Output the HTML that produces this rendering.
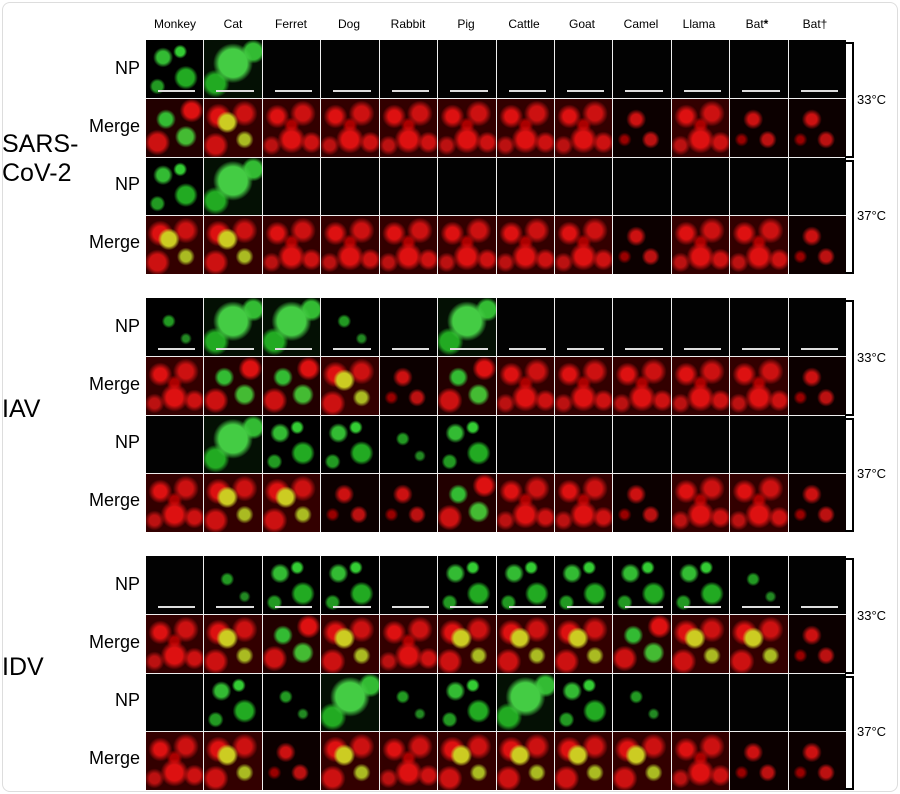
<!DOCTYPE html>
<html><head><meta charset="utf-8"><style>
body{margin:0;width:900px;height:794px;background:#fff;position:relative;overflow:hidden;font-family:"Liberation Sans",sans-serif;}
.frame{position:absolute;left:2px;top:2px;width:894px;height:788px;border:1px solid #ddd;border-radius:8px;}
.blk{position:absolute;left:146px;width:700px;height:234px;display:grid;grid-template-columns:repeat(12,1fr);grid-template-rows:repeat(4,1fr);gap:1px;background:#eee;}
.blk div{background:#000;position:relative;overflow:hidden}
.k{background:#020202!important}
.g{background:radial-gradient(circle at 30% 30%,#3b3 0 6px,transparent 10px),radial-gradient(circle at 70% 65%,#2a2 0 8px,transparent 12px),radial-gradient(circle at 60% 20%,#3c3 0 4px,transparent 7px),radial-gradient(circle at 20% 80%,#292 0 5px,transparent 8px),#000!important}
.G{background:radial-gradient(circle at 50% 40%,#4c4 0 14px,transparent 20px),radial-gradient(circle at 20% 75%,#2a2 0 9px,transparent 14px),radial-gradient(circle at 85% 20%,#3b3 0 8px,transparent 12px),#041004!important}
.gs{background:radial-gradient(circle at 40% 40%,#292 0 4px,transparent 7px),radial-gradient(circle at 70% 70%,#282 0 3px,transparent 6px),#000!important}
.r{background:radial-gradient(circle at 25% 30%,#d11 0 6px,transparent 12px),radial-gradient(circle at 70% 25%,#c11 0 7px,transparent 13px),radial-gradient(circle at 50% 70%,#d11 0 8px,transparent 14px),radial-gradient(circle at 15% 80%,#b11 0 5px,transparent 10px),radial-gradient(circle at 85% 75%,#c11 0 6px,transparent 11px),radial-gradient(circle at 50% 45%,#a00 0 4px,transparent 8px),#300!important}
.rs{background:radial-gradient(circle at 40% 35%,#c11 0 5px,transparent 10px),radial-gradient(circle at 65% 70%,#b11 0 5px,transparent 9px),radial-gradient(circle at 20% 70%,#900 0 3px,transparent 7px),#0c0000!important}
.ry{background:radial-gradient(circle at 40% 40%,#cc2 0 7px,transparent 11px),radial-gradient(circle at 70% 70%,#ab2 0 5px,transparent 9px),radial-gradient(circle at 25% 30%,#d11 0 7px,transparent 13px),radial-gradient(circle at 70% 25%,#c11 0 7px,transparent 13px),radial-gradient(circle at 20% 80%,#c11 0 8px,transparent 13px),#300!important}
.rg{background:radial-gradient(circle at 35% 35%,#3b3 0 6px,transparent 10px),radial-gradient(circle at 70% 65%,#4b3 0 7px,transparent 11px),radial-gradient(circle at 20% 75%,#c11 0 8px,transparent 13px),radial-gradient(circle at 80% 20%,#d11 0 7px,transparent 12px),#200!important}
.bar::after{content:"";position:absolute;left:12px;right:8px;bottom:6px;height:2px;background:#ddd}
.hd{position:absolute;top:17px;font-size:12px;width:58px;text-align:center}
.rl{position:absolute;right:760px;font-size:18px}
.bl{position:absolute;left:2px;font-size:25px;line-height:29px}
.br{position:absolute;left:845px;width:7px;border:2px solid #000;border-left:none}
.t{position:absolute;left:857px;font-size:13px}
</style></head><body>
<div class="frame"></div>
<div class="hd" style="left:146px">Monkey</div><div class="hd" style="left:204px">Cat</div><div class="hd" style="left:262px">Ferret</div><div class="hd" style="left:320px">Dog</div><div class="hd" style="left:379px">Rabbit</div><div class="hd" style="left:437px">Pig</div><div class="hd" style="left:495px">Cattle</div><div class="hd" style="left:553px">Goat</div><div class="hd" style="left:612px">Camel</div><div class="hd" style="left:670px">Llama</div><div class="hd" style="left:728px">Bat<b>*</b></div><div class="hd" style="left:786px">Bat†</div>

<div class="bl" style="top:130px">SARS-<br>CoV-2</div>
<div class="bl" style="top:395px">IAV</div>
<div class="bl" style="top:653px">IDV</div>

<div class="rl" style="top:58px">NP</div><div class="rl" style="top:116px">Merge</div><div class="rl" style="top:174px">NP</div><div class="rl" style="top:232px">Merge</div>
<div class="rl" style="top:316px">NP</div><div class="rl" style="top:374px">Merge</div><div class="rl" style="top:432px">NP</div><div class="rl" style="top:490px">Merge</div>
<div class="rl" style="top:574px">NP</div><div class="rl" style="top:632px">Merge</div><div class="rl" style="top:690px">NP</div><div class="rl" style="top:748px">Merge</div>

<div class="blk" style="top:40px">
<div class="g bar"></div><div class="G bar"></div><div class="k bar"></div><div class="k bar"></div><div class="k bar"></div><div class="k bar"></div><div class="k bar"></div><div class="k bar"></div><div class="k bar"></div><div class="k bar"></div><div class="k bar"></div><div class="k bar"></div>
<div class="rg"></div><div class="ry"></div><div class="r"></div><div class="r"></div><div class="r"></div><div class="r"></div><div class="r"></div><div class="r"></div><div class="rs"></div><div class="r"></div><div class="rs"></div><div class="rs"></div>
<div class="g"></div><div class="G"></div><div class="k"></div><div class="k"></div><div class="k"></div><div class="k"></div><div class="k"></div><div class="k"></div><div class="k"></div><div class="k"></div><div class="k"></div><div class="k"></div>
<div class="ry"></div><div class="ry"></div><div class="r"></div><div class="r"></div><div class="r"></div><div class="r"></div><div class="r"></div><div class="r"></div><div class="rs"></div><div class="r"></div><div class="r"></div><div class="rs"></div>
</div>

<div class="blk" style="top:298px">
<div class="gs bar"></div><div class="G bar"></div><div class="G bar"></div><div class="gs bar"></div><div class="k bar"></div><div class="G bar"></div><div class="k bar"></div><div class="k bar"></div><div class="k bar"></div><div class="k bar"></div><div class="k bar"></div><div class="k bar"></div>
<div class="r"></div><div class="rg"></div><div class="rg"></div><div class="ry"></div><div class="rs"></div><div class="rg"></div><div class="r"></div><div class="r"></div><div class="r"></div><div class="r"></div><div class="r"></div><div class="rs"></div>
<div class="k"></div><div class="G"></div><div class="g"></div><div class="g"></div><div class="gs"></div><div class="g"></div><div class="k"></div><div class="k"></div><div class="k"></div><div class="k"></div><div class="k"></div><div class="k"></div>
<div class="r"></div><div class="ry"></div><div class="ry"></div><div class="rs"></div><div class="rs"></div><div class="rg"></div><div class="r"></div><div class="r"></div><div class="rs"></div><div class="r"></div><div class="r"></div><div class="rs"></div>
</div>

<div class="blk" style="top:556px">
<div class="k bar"></div><div class="gs bar"></div><div class="g bar"></div><div class="g bar"></div><div class="k bar"></div><div class="g bar"></div><div class="g bar"></div><div class="g bar"></div><div class="g bar"></div><div class="g bar"></div><div class="gs bar"></div><div class="k bar"></div>
<div class="r"></div><div class="ry"></div><div class="rg"></div><div class="ry"></div><div class="r"></div><div class="ry"></div><div class="ry"></div><div class="ry"></div><div class="rg"></div><div class="ry"></div><div class="ry"></div><div class="rs"></div>
<div class="k"></div><div class="g"></div><div class="gs"></div><div class="G"></div><div class="gs"></div><div class="g"></div><div class="G"></div><div class="g"></div><div class="gs"></div><div class="k"></div><div class="k"></div><div class="k"></div>
<div class="r"></div><div class="ry"></div><div class="rs"></div><div class="ry"></div><div class="r"></div><div class="ry"></div><div class="ry"></div><div class="ry"></div><div class="ry"></div><div class="r"></div><div class="rs"></div><div class="rs"></div>
</div>

<div class="br" style="top:42px;height:112px"></div><div class="t" style="top:92px">33°C</div>
<div class="br" style="top:160px;height:110px"></div><div class="t" style="top:208px">37°C</div>
<div class="br" style="top:300px;height:112px"></div><div class="t" style="top:350px">33°C</div>
<div class="br" style="top:418px;height:110px"></div><div class="t" style="top:466px">37°C</div>
<div class="br" style="top:558px;height:112px"></div><div class="t" style="top:608px">33°C</div>
<div class="br" style="top:676px;height:110px"></div><div class="t" style="top:724px">37°C</div>
</body></html>
